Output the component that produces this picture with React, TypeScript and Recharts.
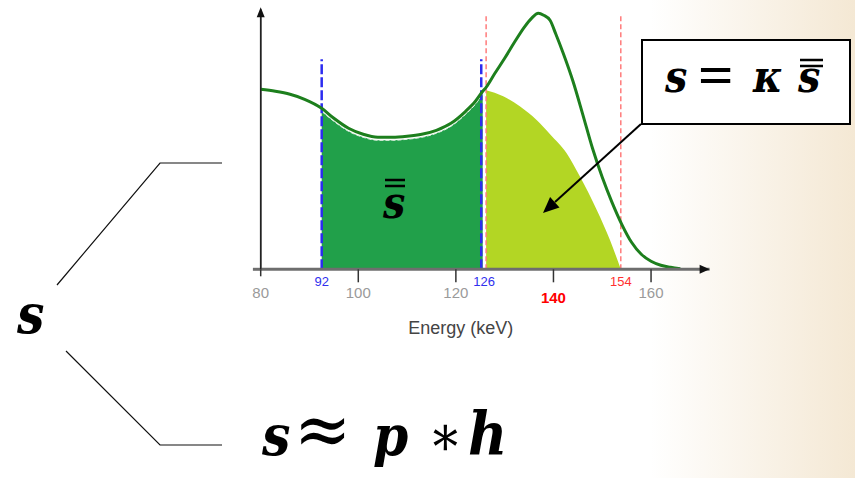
import { ComposedChart, Line, Area, XAxis, YAxis, ReferenceLine, ReferenceDot } from 'recharts'

// Spectrum (energy in keV, counts in arbitrary units)
const energy = [80, 83, 86, 89, 92.5, 95, 98, 101, 104, 107, 110, 113, 116, 119, 122, 124, 125.5, 126.2, 128, 130, 132, 134, 135.5, 136.9, 138, 139.3, 140.5, 142, 144, 146, 148, 150, 152, 154, 156, 158, 160, 162, 164, 166]
const counts = [180, 178, 175, 170, 161, 151, 141, 135, 132, 132, 133, 135, 139, 146, 158, 168, 178, 182, 196, 211, 227, 242, 251, 256, 254, 249, 235, 216, 188, 155, 121, 92, 67, 45, 27, 15, 8, 4, 2, 0.5]

// scatter window (dark green)
const windowEnergy = [92.5, 95, 98, 101, 104, 107, 110, 113, 116, 119, 122, 124, 125.5]
const windowCounts = [158, 148, 138, 132, 129, 129, 130, 132, 136, 143, 155, 165, 175]

// primary photons in photopeak window (light green)
const peakEnergy = [126.2, 129.7, 133.1, 136.6, 139.3, 142.7, 145.4, 148.9, 151.6, 153.8]
const peakCounts = [179, 173, 163, 149, 135, 116, 93, 59, 29, 0]

// window edges
const scatterEdges = [92.5, 125.2]
const peakEdges = [126.2, 153.8]

const tickValues = [80, 92.5, 100, 120, 125.8, 140, 153.8, 160]
const tickLabels = ['80', '92', '100', '120', '126', '140', '154', '160']

const toRows = (xs: number[], ys: number[]) => xs.map((e, i) => ({ e, v: ys[i] }))

const spectrum = toRows(energy, counts)
const scatterWin = toRows(windowEnergy, windowCounts)
const peakWin = toRows(peakEnergy, peakCounts)

const MATH = '"DejaVu Serif Condensed", "DejaVu Serif", serif'
const mathStyle = { fontStretch: 'condensed' as const }

function EnergyTick(props: any) {
  const { x, y, payload } = props
  const i = tickValues.indexOf(payload.value)
  const label = tickLabels[i]
  const isWin = label === '92' || label === '126' || label === '154'
  const color = label === '154' ? '#ff3030' : label === '140' ? '#ff0000' : isWin ? '#3030ee' : '#9a9a9a'
  return (
    <g>
      {label === '80' && <line x1={x} x2={x} y1={y} y2={y + 7} stroke="#333" strokeWidth={1.5} />}
      {!isWin && label !== '80' && <line x1={x} x2={x} y1={y} y2={y + 13} stroke="#333" strokeWidth={1.5} />}
      <text
        x={x}
        y={isWin ? y + 17 : label === '140' ? y + 34 : y + 29}
        textAnchor="middle"
        fill={color}
        fontSize={isWin ? 13 : 15}
        fontWeight={label === '140' ? 'bold' : 'normal'}
        fontFamily="Liberation Sans, Arial, sans-serif"
      >
        {label}
      </text>
    </g>
  )
}

function AxisTitle(props: any) {
  const vb = props.viewBox || { x: 260, y: 269 }
  return (
    <text x={vb.x + 200} y={vb.y + 65} textAnchor="middle" fill="#444" fontSize={18} fontFamily="Liberation Sans, Arial, sans-serif">
      Energy (keV)
    </text>
  )
}

const UpArrow = (p: any) => <polygon points={`${p.cx},${p.cy - 2} ${p.cx - 4},${p.cy + 8} ${p.cx + 4},${p.cy + 8}`} fill="#111" />
const RightArrow = (p: any) => <polygon points={`${p.cx},${p.cy} ${p.cx - 10},${p.cy - 4.5} ${p.cx - 10},${p.cy + 4.5}`} fill="#111" />

export default function App() {
  return (
    <div
      style={{
        position: 'absolute',
        left: 0,
        top: 0,
        width: 855,
        height: 478,
        background: 'linear-gradient(to right, #ffffff 0%, #ffffff 76%, #f4e8d4 100%)',
      }}
    >
      <ComposedChart width={855} height={478} margin={{ top: 9.3, right: 145.4, bottom: 0, left: 259.7 }}>
        <XAxis
          dataKey="e"
          type="number"
          domain={[80, 172]}
          ticks={tickValues}
          interval={0}
          height={208.7}
          tickSize={0}
          tickMargin={0}
          tickLine={false}
          tick={<EnergyTick />}
          axisLine={{ stroke: '#6e6e6e', strokeWidth: 3 }}
          allowDataOverflow
          label={<AxisTitle />}
        />
        <YAxis
          type="number"
          domain={[0, 260]}
          width={1}
          tick={false}
          tickLine={false}
          axisLine={{ stroke: '#222', strokeWidth: 1.5 }}
          allowDataOverflow
        />
        <Area data={scatterWin} dataKey="v" type="monotone" fill="#21a04a" fillOpacity={1} stroke="#e6f3e6" strokeWidth={1} strokeDasharray="4 2" isAnimationActive={false} />
        <Area data={peakWin} dataKey="v" type="monotone" fill="#b3d624" fillOpacity={1} stroke="none" isAnimationActive={false} />
        {scatterEdges.map((x, i) => (
          <ReferenceLine key={'b' + i} segment={[{ x, y: 0 }, { x, y: 210 }]} stroke="#2c2cf0" strokeWidth={2.5} strokeDasharray="10 3" />
        ))}
        {peakEdges.map((x, i) => (
          <ReferenceLine key={'r' + i} segment={[{ x, y: 0 }, { x, y: 254 }]} stroke="#ff7b7b" strokeWidth={1.5} strokeDasharray="5 3" />
        ))}
        <ReferenceLine segment={[{ x: 80, y: 0 }, { x: 80, y: 258 }]} stroke="#222" strokeWidth={1.5} />
        <ReferenceLine segment={[{ x: 78.4, y: 0 }, { x: 80, y: 0 }]} stroke="#6e6e6e" strokeWidth={3} ifOverflow="visible" />
        <Line data={spectrum} dataKey="v" type="monotone" stroke="#1d7f1d" strokeWidth={3} dot={false} isAnimationActive={false} />
        <ReferenceDot x={80} y={260} shape={UpArrow} />
        <ReferenceDot x={172} y={0} shape={RightArrow} />
      </ComposedChart>

      <svg width={855} height={478} style={{ position: 'absolute', left: 0, top: 0, pointerEvents: 'none' }}>
        {/* brace lines */}
        <polyline points="57,285 160,163 222,163" fill="none" stroke="#111" strokeWidth={1.2} />
        <polyline points="66,351 160,445 222,445" fill="none" stroke="#111" strokeWidth={1.2} />

        <text x={17} y={333} fontFamily={MATH} style={mathStyle} fontSize={54} fontWeight="bold" fontStyle="italic" fill="#000">s</text>

        <text y={455} fontFamily={MATH} style={mathStyle} fontSize={56} fontWeight="bold" fill="#000">
          <tspan x={262} fontStyle="italic">s</tspan>
          <tspan x={294} fontSize={76} fontWeight="normal">≈</tspan>
          <tspan x={373} fontStyle="italic">p</tspan>
          <tspan x={428} fontWeight="normal">∗</tspan>
          <tspan x={468} fontStyle="italic" fontSize={60}>h</tspan>
        </text>

        {/* s double-bar in scatter window */}
        <text x={383} y={218} fontFamily={MATH} style={mathStyle} fontSize={44} fontWeight="bold" fontStyle="italic" fill="#000">s</text>
        <line x1={385} x2={405} y1={180} y2={180} stroke="#000" strokeWidth={2.5} />
        <line x1={385} x2={405} y1={186} y2={186} stroke="#000" strokeWidth={2.5} />

        {/* callout */}
        <rect x={642} y={40} width={208} height={84} fill="#ffffff" stroke="#000" strokeWidth={2} />
        <text y={92} fontFamily={MATH} style={mathStyle} fontSize={44} fontWeight="bold" fill="#000">
          <tspan x={665} fontStyle="italic">s</tspan>
          <tspan x={696} fontSize={52} fontWeight="normal">=</tspan>
          <tspan x={753} fontStyle="italic">κ</tspan>
          <tspan x={798} fontStyle="italic">s</tspan>
        </text>
        <line x1={800} x2={823} y1={60} y2={60} stroke="#000" strokeWidth={2.5} />
        <line x1={800} x2={823} y1={66} y2={66} stroke="#000" strokeWidth={2.5} />
        <line x1={641} y1={124} x2={555} y2={202} stroke="#000" strokeWidth={2} />
        <polygon points="543,213 559.5,207.4 550.1,197" fill="#000" />
      </svg>
    </div>
  )
}
